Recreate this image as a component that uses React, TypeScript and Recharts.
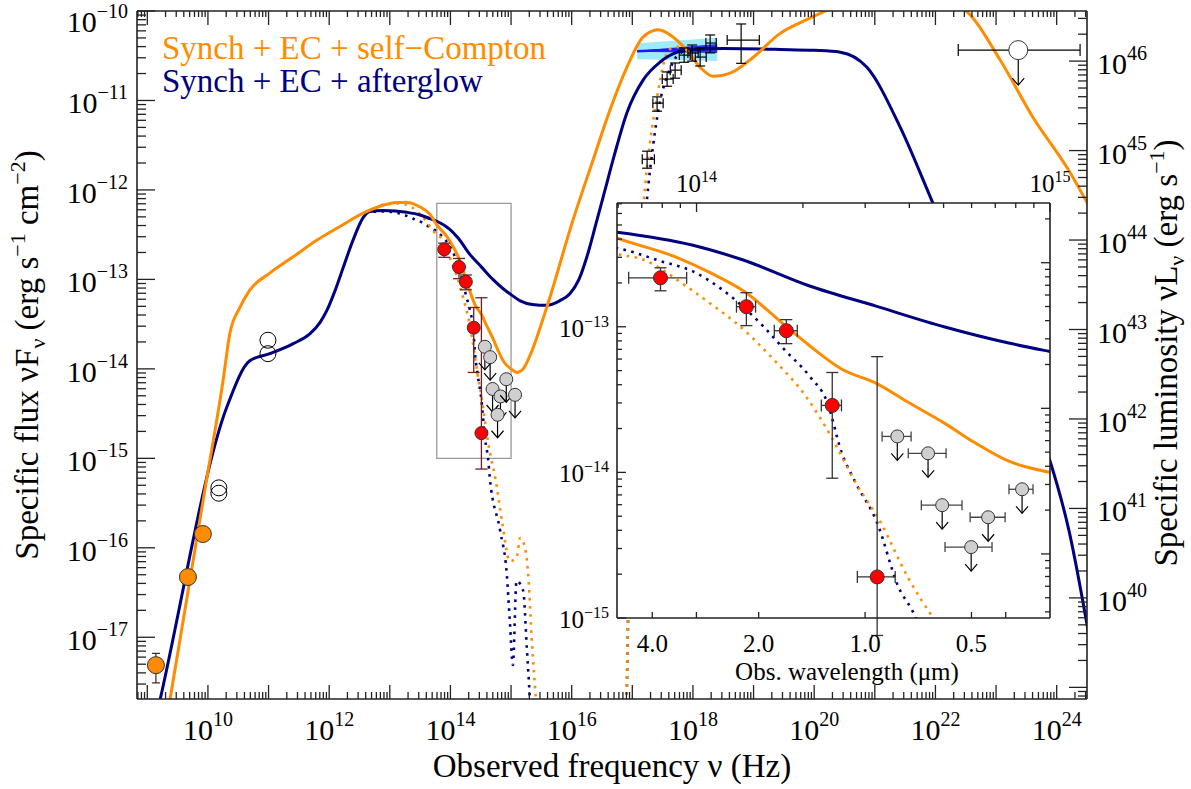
import React from "react";
import {
  ComposedChart,
  Line,
  Area,
  Scatter,
  XAxis,
  YAxis,
  ErrorBar,
  ReferenceArea,
} from "recharts";

const FONT = '"Liberation Serif", "Times New Roman", Times, serif';
const ORANGE = "#ff8c00";
const NAVY = "#000080";
const AXIS = "#222";
const LUM_OFFSET = 56.56; // log10(4 pi dL^2), flux -> luminosity
const C_MICRON = 2.998e14; // speed of light in micron/s

// all values are log10: [nu (Hz), nuFnu (erg s-1 cm-2)]
const sscModel = [
  [9.25, -18.2], [9.6, -16.78], [9.95, -15.35], [10.25, -14.13], [10.36, -13.61],
  [10.53, -13.31], [10.69, -13.12], [11.02, -12.93], [11.4, -12.75], [11.8, -12.56],
  [12.2, -12.4], [12.56, -12.26], [12.85, -12.18], [13.12, -12.14], [13.28, -12.14],
  [13.5, -12.19], [13.66, -12.27], [13.775, -12.39], [13.94, -12.52], [14.04, -12.63],
  [14.13, -12.75], [14.26, -13.01], [14.32, -13.13], [14.41, -13.29], [14.51, -13.39],
  [14.6, -13.52], [14.7, -13.66], [14.79, -13.8], [14.88, -13.92], [15.0, -14.0],
  [15.1, -14.04], [15.2, -14.0], [15.3, -13.87], [15.59, -13.31], [16.02, -12.34],
  [16.35, -11.67], [16.63, -11.11], [16.91, -10.63], [17.18, -10.29], [17.43, -10.21],
  [17.67, -10.29], [17.9, -10.44], [18.12, -10.63], [18.33, -10.73], [18.66, -10.68],
  [18.99, -10.52], [19.44, -10.25], [19.77, -10.13], [20.15, -10.01], [20.7, -9.85],
  [21.3, -9.78], [21.9, -9.83], [22.49, -9.99], [23.07, -10.55], [23.61, -11.19],
  [24.17, -11.75], [24.55, -12.2],
];

const afterglowModel = [
  [9.1, -18.03], [9.21, -17.7], [10.31, -14.43], [10.69, -13.91], [11.02, -13.83],
  [11.4, -13.72], [11.68, -13.61], [11.85, -13.48], [11.96, -13.35], [12.1, -13.12],
  [12.23, -12.87], [12.4, -12.55], [12.56, -12.31], [12.67, -12.24], [12.9, -12.23],
  [13.28, -12.25], [13.5, -12.28], [13.66, -12.32], [13.775, -12.35], [13.99, -12.44],
  [14.13, -12.54], [14.32, -12.72], [14.51, -12.86], [14.7, -13.0], [14.88, -13.11],
  [15.0, -13.17], [15.15, -13.24], [15.35, -13.28], [15.59, -13.29], [15.8, -13.24],
  [15.97, -13.16], [16.12, -13.0], [16.25, -12.75], [16.4, -12.38], [16.55, -12.0],
  [16.7, -11.62], [16.91, -11.14], [17.18, -10.77], [17.46, -10.57], [17.74, -10.46],
  [18.0, -10.43], [18.5, -10.42], [19.44, -10.43], [20.0, -10.44], [20.43, -10.46],
  [20.87, -10.63], [21.42, -11.3], [21.96, -12.15], [22.5, -13.0], [23.2, -14.0],
  [23.89, -15.03], [24.2, -15.8], [24.55, -17.05],
];

// synchrotron-only components (dotted)
const sscSynch = [
  [12.85, -12.17], [13.12, -12.15], [13.35, -12.19], [13.55, -12.31], [13.775, -12.5],
  [13.85, -12.54], [13.97, -12.72], [14.05, -12.86], [14.11, -12.97], [14.22, -13.23],
  [14.31, -13.48], [14.38, -13.75], [14.45, -14.07], [14.52, -14.34], [14.6, -14.73],
  [14.67, -15.0], [14.74, -15.22], [14.85, -15.7], [14.98, -16.15], [15.09, -16.11],
  [15.15, -15.89], [15.23, -16.0], [15.29, -16.37], [15.34, -17.01], [15.4, -17.6],
  [15.44, -18.0],
];

const afterglowSynch = [
  [12.6, -12.25], [12.9, -12.24], [13.2, -12.27], [13.38, -12.32], [13.55, -12.37],
  [13.71, -12.44], [13.775, -12.46], [13.9, -12.55], [13.99, -12.62], [14.07, -12.74],
  [14.19, -13.0], [14.25, -13.16], [14.32, -13.34], [14.37, -13.52], [14.41, -13.86],
  [14.45, -14.07], [14.51, -14.34], [14.57, -14.78], [14.62, -15.0], [14.65, -15.22],
  [14.82, -15.81], [14.93, -16.3], [14.98, -16.82], [15.03, -17.31], [15.09, -16.37],
  [15.2, -16.48], [15.26, -17.12], [15.31, -17.7], [15.33, -18.0],
];

// X-ray components (dotted)
const sscXray = [
  [16.9, -18.0], [16.93, -16.8], [17.0, -14.8], [17.1, -13.0], [17.21, -11.97],
  [17.29, -11.48], [17.41, -10.96], [17.46, -10.77], [17.57, -10.47], [17.67, -10.41],
  [17.8, -10.4],
];
const afterglowXray = [
  [16.9, -18.0], [16.93, -16.8], [17.0, -14.8], [17.12, -13.2], [17.24, -12.12],
  [17.34, -11.52], [17.46, -11.0], [17.57, -10.74], [17.79, -10.47], [18.0, -10.43],
  [18.4, -10.42],
];

// X-ray spectral fit bowtie
const bowtieLogNu = [17.08, 18.4];
const bowtieOuter = [[-10.54, -10.36], [-10.56, -10.3]];
const bowtieInner = [[-10.455, -10.445], [-10.47, -10.37]];
const bowtieCentre = [-10.45, -10.41];

// X-ray data
const xrayLogNu = [17.244, 17.409, 17.574, 17.706, 17.855, 17.987, 18.119, 18.284, 18.795];
const xrayLogF = [-11.657, -11.03, -10.761, -10.661, -10.493, -10.47, -10.515, -10.358, -10.325];
const xrayNuErr = [[0.08, 0.12], [0.07, 0.1], [0.08, 0.1], [0.08, 0.1], [0.08, 0.1], [0.07, 0.1], [0.08, 0.1], [0.07, 0.1], [0.23, 0.3]];
const xrayFErr = [[0.1, 0.09], [0.09, 0.07], [0.08, 0.08], [0.09, 0.08], [0.08, 0.08], [0.09, 0.09], [0.1, 0.1], [0.11, 0.09], [0.26, 0.18]];

// gamma-ray upper limit
const gammaLogNu = [23.366];
const gammaLogF = [-10.437];
const gammaNuErr = [[0.99, 1.02]];

// radio detections and open (other epoch) radio points
const radioLogNu = [9.142, 9.67, 9.917];
const radioLogF = [-17.312, -16.327, -15.846];
const radioFErr = [[0.198, 0.132], [0.02, 0.02], [0.03, 0.03]];
const openRadioLogNu = [10.18, 10.18, 10.99, 10.99];
const openRadioLogF = [-15.33, -15.39, -13.68, -13.83];

// NIR / optical detections
const nirLogNu = [13.898, 14.141, 14.254, 14.384, 14.511];
const nirLogF = [-12.664, -12.862, -13.027, -13.54, -14.718];
const nirNuLo = [13.808, 14.113, 14.22, 14.353, 14.455];
const nirNuHi = [13.972, 14.167, 14.285, 14.41, 14.562];
const nirFLo = [-12.753, -12.992, -13.116, -14.04, -15.12];
const nirFHi = [-12.595, -12.766, -12.951, -13.314, -13.205];

// optical / UV upper limits
const optLogNu = [14.568, 14.655, 14.695, 14.825, 14.777, 14.921, 15.066];
const optLogF = [-13.753, -13.869, -14.225, -14.308, -14.513, -14.116, -14.29];
const optNuLo = [14.525, 14.599, 14.636, 14.774, 14.703, 14.884, 15.03];
const optNuHi = [14.607, 14.706, 14.751, 14.873, 14.836, 14.952, 15.1];

// axis ranges and labels
const mainX = [8.83, 24.5];
const mainY = [-17.69, -10];
const insetX = [13.775, 15.0];
const insetY = [-15, -12.15];
const wavelengthTicks = [4.0, 3.0, 2.0, 1.0, 0.5, 0.4];
const wavelengthLabels = ["4.0", "", "2.0", "1.0", "0.5", ""];
const insetFreqLabels = [14, 15];

const toXY = (pts: number[][]) => pts.map(([x, y]) => ({ x, y }));

const bowtieRows = bowtieLogNu.map((x, i) => ({
  x,
  outer: bowtieOuter[i],
  inner: bowtieInner[i],
  y: bowtieCentre[i],
}));
const xrayRows = xrayLogNu.map((x, i) => ({ x, y: xrayLogF[i], ex: xrayNuErr[i], ey: xrayFErr[i] }));
const gammaRows = gammaLogNu.map((x, i) => ({ x, y: gammaLogF[i], ex: gammaNuErr[i] }));
const radioRows = radioLogNu.map((x, i) => ({ x, y: radioLogF[i], ey: radioFErr[i] }));
const openRadioRows = openRadioLogNu.map((x, i) => ({ x, y: openRadioLogF[i] }));
const nirRows = nirLogNu.map((x, i) => ({
  x,
  y: nirLogF[i],
  ex: [x - nirNuLo[i], nirNuHi[i] - x],
  ey: [nirLogF[i] - nirFLo[i], nirFHi[i] - nirLogF[i]],
}));
const optRows = optLogNu.map((x, i) => ({ x, y: optLogF[i], ex: [x - optNuLo[i], optNuHi[i] - x] }));
const insetOptRows = optRows.filter((r) => r.x < insetX[1]);

function logTicks(min: number, max: number) {
  const out: number[] = [];
  for (let d = Math.floor(min) - 1; d <= Math.ceil(max); d++) {
    for (let k = 1; k <= 9; k++) {
      const v = d + Math.log10(k);
      if (v >= min - 1e-6 && v <= max + 1e-6) out.push(v);
    }
  }
  return out;
}
const isDecade = (v: number) => Math.abs(v - Math.round(v)) < 1e-6;

function Pow({ x, y, exp, anchor, size, sup, rise }: any) {
  return (
    <text x={x} y={y} textAnchor={anchor} fontFamily={FONT} fontSize={size} fill="#000">
      <tspan>10</tspan>
      <tspan dy={-rise} fontSize={sup}>
        {exp < 0 ? `\u2212${-exp}` : `${exp}`}
      </tspan>
    </text>
  );
}

type TickCfg = {
  side: "left" | "right" | "top" | "bottom";
  major: number;
  minor: number;
  isMajor?: (v: number, i: number) => boolean;
  label?: (v: number, i: number, x: number, y: number) => React.ReactNode;
};

function makeTick(cfg: TickCfg) {
  const dir = { left: [1, 0], right: [-1, 0], top: [0, 1], bottom: [0, -1] }[cfg.side];
  return (props: any) => {
    const { x, y, payload, index } = props;
    const v = payload.value;
    const major = cfg.isMajor ? cfg.isMajor(v, index) : isDecade(v);
    const len = major ? cfg.major : cfg.minor;
    return (
      <g>
        <line x1={x} y1={y} x2={x + dir[0] * len} y2={y + dir[1] * len} stroke={AXIS} strokeWidth={1.3} />
        {cfg.label ? cfg.label(v, index, x, y) : null}
      </g>
    );
  };
}

const axisLine = { stroke: AXIS, strokeWidth: 1.6 };
const common = {
  type: "number" as const,
  allowDataOverflow: true,
  interval: 0 as const,
  tickSize: 0,
  tickMargin: 0,
  tickLine: false,
  axisLine,
};

// markers
const NoMark = () => <g />;
const dotShape = (fill: string, r: number, stroke = "#333") => (p: any) =>
  <circle cx={p.cx} cy={p.cy} r={r} fill={fill} stroke={stroke} strokeWidth={1} />;
const limitShape = (fill: string, r: number, len: number) => (p: any) => (
  <g>
    <line x1={p.cx} y1={p.cy} x2={p.cx} y2={p.cy + len} stroke="#000" strokeWidth={1.2} />
    <polyline
      points={`${p.cx - 6},${p.cy + len - 7} ${p.cx},${p.cy + len} ${p.cx + 6},${p.cy + len - 7}`}
      fill="none"
      stroke="#000"
      strokeWidth={1.2}
    />
    <circle cx={p.cx} cy={p.cy} r={r} fill={fill} stroke="#333" strokeWidth={1} />
  </g>
);

function modelLines(xId: string, yId: string) {
  const solid = { xAxisId: xId, yAxisId: yId, dataKey: "y", type: "monotone" as const, dot: false, isAnimationActive: false };
  const dotted = { ...solid, strokeWidth: 2.6, strokeDasharray: "2.6 5.4" };
  return [
    <Line key="as" {...dotted} data={toXY(afterglowSynch)} stroke={NAVY} />,
    <Line key="ss" {...dotted} data={toXY(sscSynch)} stroke={ORANGE} />,
    <Line key="ax" {...dotted} data={toXY(afterglowXray)} stroke={NAVY} />,
    <Line key="sx" {...dotted} data={toXY(sscXray)} stroke={ORANGE} />,
    <Line key="am" {...solid} data={toXY(afterglowModel)} stroke={NAVY} strokeWidth={3} />,
    <Line key="sm" {...solid} data={toXY(sscModel)} stroke={ORANGE} strokeWidth={3} />,
  ];
}

const mainBottomTick = makeTick({
  side: "bottom",
  major: 14,
  minor: 7,
  label: (v, i, x, y) =>
    isDecade(v) && Math.round(v) % 2 === 0 ? (
      <Pow x={x} y={y + 41} exp={Math.round(v)} anchor="middle" size={30} sup={20} rise={14} />
    ) : null,
});
const mainTopTick = makeTick({ side: "top", major: 14, minor: 6 });
const mainLeftTick = makeTick({
  side: "left",
  major: 18,
  minor: 9,
  // the topmost label is pushed down so it stays on the page
  label: (v, i, x, y) =>
    isDecade(v) ? (
      <Pow x={x - 9} y={Math.max(y + 13, 32)} exp={Math.round(v)} anchor="end" size={30} sup={20} rise={14} />
    ) : null,
});
const mainRightTick = makeTick({
  side: "right",
  major: 18,
  minor: 9,
  label: (v, i, x, y) =>
    isDecade(v) && v >= 39.5 ? (
      <Pow x={x + 10} y={y + 13} exp={Math.round(v)} anchor="start" size={30} sup={20} rise={14} />
    ) : null,
});

const insetBottomTick = makeTick({
  side: "bottom",
  major: 6,
  minor: 6,
  label: (v, i, x, y) =>
    wavelengthLabels[i] ? (
      <text x={x} y={y + 34} textAnchor="middle" fontFamily={FONT} fontSize={25} fill="#000">
        {wavelengthLabels[i]}
      </text>
    ) : null,
});
const insetTopTick = makeTick({
  side: "top",
  major: 9,
  minor: 5,
  label: (v, i, x, y) =>
    isDecade(v) && insetFreqLabels.includes(Math.round(v)) ? (
      <Pow x={x} y={y - 11} exp={Math.round(v)} anchor="middle" size={25} sup={16} rise={10} />
    ) : null,
});
const insetLeftTick = makeTick({
  side: "left",
  major: 9,
  minor: 5,
  label: (v, i, x, y) =>
    isDecade(v) ? <Pow x={x - 8} y={y + 10} exp={Math.round(v)} anchor="end" size={25} sup={16} rise={10} /> : null,
});
const insetRightTick = makeTick({ side: "right", major: 9, minor: 5 });

export default function App() {
  const lumMain = [mainY[0] + LUM_OFFSET, mainY[1] + LUM_OFFSET];
  const lumInset = [insetY[0] + LUM_OFFSET, insetY[1] + LUM_OFFSET];
  const wlTicks = wavelengthTicks.map((l) => Math.log10(C_MICRON / l));

  // axes are 1px thick boxes so that the plot area sits exactly inside the margins
  return (
    <div style={{ position: "absolute", left: 0, top: 0, width: 1191, height: 789, background: "#fff" }}>
      <div style={{ position: "absolute", left: 0, top: 0 }}>
        <ComposedChart width={1191} height={789} margin={{ top: 10, right: 103, bottom: 89, left: 136 }}>
          <XAxis {...common} xAxisId="b" dataKey="x" domain={mainX} height={1} ticks={logTicks(mainX[0], mainX[1])} tick={mainBottomTick} />
          <XAxis {...common} xAxisId="t" orientation="top" dataKey="x" domain={mainX} height={1} ticks={logTicks(mainX[0], mainX[1])} tick={mainTopTick} />
          <YAxis {...common} yAxisId="l" dataKey="y" domain={mainY} width={1} ticks={logTicks(mainY[0], mainY[1])} tick={mainLeftTick} />
          <YAxis {...common} yAxisId="r" orientation="right" domain={lumMain} width={1} ticks={logTicks(lumMain[0], lumMain[1])} tick={mainRightTick} />

          <ReferenceArea xAxisId="b" yAxisId="l" x1={insetX[0]} x2={insetX[1]} y1={insetY[0]} y2={insetY[1]} fill="none" fillOpacity={0} stroke="#999" strokeWidth={1.3} />

          <Area xAxisId="b" yAxisId="l" data={bowtieRows} dataKey="outer" type="linear" fill="#9feaf9" fillOpacity={1} stroke="none" isAnimationActive={false} />
          <Area xAxisId="b" yAxisId="l" data={bowtieRows} dataKey="inner" type="linear" fill="#2233ee" fillOpacity={1} stroke="none" isAnimationActive={false} />
          <Line xAxisId="b" yAxisId="l" data={bowtieRows} dataKey="y" type="linear" stroke="#1a1aff" strokeWidth={2.5} dot={false} isAnimationActive={false} />

          {modelLines("b", "l")}

          <Scatter xAxisId="b" yAxisId="l" data={xrayRows} dataKey="y" shape={NoMark} isAnimationActive={false}>
            <ErrorBar dataKey="ex" direction="x" width={5} stroke="#000" strokeWidth={1.2} />
            <ErrorBar dataKey="ey" direction="y" width={5} stroke="#000" strokeWidth={1.2} />
          </Scatter>
          <Scatter xAxisId="b" yAxisId="l" data={gammaRows} dataKey="y" shape={limitShape("#fff", 9.5, 35)} isAnimationActive={false}>
            <ErrorBar dataKey="ex" direction="x" width={6} stroke="#000" strokeWidth={1.2} />
          </Scatter>
          <Scatter xAxisId="b" yAxisId="l" data={openRadioRows} dataKey="y" shape={dotShape("none", 8, "#000")} isAnimationActive={false} />
          <Scatter xAxisId="b" yAxisId="l" data={radioRows} dataKey="y" shape={dotShape(ORANGE, 8.5)} isAnimationActive={false} />
          {/* radio error bars drawn again on top of the filled markers */}
          <Scatter xAxisId="b" yAxisId="l" data={radioRows} dataKey="y" shape={NoMark} isAnimationActive={false}>
            <ErrorBar dataKey="ey" direction="y" width={4} stroke="#3a2410" strokeWidth={1.2} />
          </Scatter>
          <Scatter xAxisId="b" yAxisId="l" data={optRows} dataKey="y" shape={limitShape("#cfcfcf", 6.5, 23)} isAnimationActive={false} />
          <Scatter xAxisId="b" yAxisId="l" data={nirRows} dataKey="y" shape={dotShape("#ff0000", 6.5)} isAnimationActive={false}>
            <ErrorBar dataKey="ey" direction="y" width={6} stroke="#6e2020" strokeWidth={1.3} />
          </Scatter>
        </ComposedChart>
      </div>

      <div style={{ position: "absolute", left: 617, top: 203, width: 433, height: 415, background: "#fff" }} />

      <div style={{ position: "absolute", left: 540, top: 160 }}>
        <ComposedChart width={580} height={540} margin={{ top: 42, right: 69, bottom: 81, left: 76 }}>
          <XAxis {...common} xAxisId="b" dataKey="x" domain={insetX} height={1} ticks={wlTicks} tick={insetBottomTick} />
          <XAxis {...common} xAxisId="t" orientation="top" dataKey="x" domain={insetX} height={1} ticks={logTicks(insetX[0], insetX[1])} tick={insetTopTick} />
          <YAxis {...common} yAxisId="l" dataKey="y" domain={insetY} width={1} ticks={logTicks(insetY[0], insetY[1])} tick={insetLeftTick} />
          <YAxis {...common} yAxisId="r" orientation="right" domain={lumInset} width={1} ticks={logTicks(lumInset[0], lumInset[1])} tick={insetRightTick} />

          {modelLines("b", "l")}

          <Scatter xAxisId="b" yAxisId="l" data={insetOptRows} dataKey="y" shape={limitShape("#cfcfcf", 6.5, 24)} isAnimationActive={false}>
            <ErrorBar dataKey="ex" direction="x" width={5} stroke="#444" strokeWidth={1.3} />
          </Scatter>
          <Scatter xAxisId="b" yAxisId="l" data={nirRows} dataKey="y" shape={dotShape("#ff0000", 7)} isAnimationActive={false}>
            <ErrorBar dataKey="ex" direction="x" width={6} stroke="#333" strokeWidth={1.3} />
            <ErrorBar dataKey="ey" direction="y" width={6} stroke="#333" strokeWidth={1.3} />
          </Scatter>
        </ComposedChart>
      </div>

      <svg width={1191} height={789} style={{ position: "absolute", left: 0, top: 0, pointerEvents: "none" }} fontFamily={FONT}>
        <text x={162} y={59} fontSize={33} fill={ORANGE}>Synch + EC + self{"\u2212"}Compton</text>
        <text x={162} y={92} fontSize={33} fill={NAVY}>Synch + EC + afterglow</text>
        <text x={612} y={777} fontSize={33} textAnchor="middle" fill="#000">Observed frequency ν (Hz)</text>
        <text x={847} y={680} fontSize={25} textAnchor="middle" fill="#000">Obs. wavelength (μm)</text>
        <text x={38} y={355} transform="rotate(-90 38 355)" fontSize={33} textAnchor="middle" fill="#000">
          Specific flux νF<tspan dy={7} fontSize={22}>ν</tspan>
          <tspan dy={-7}> (erg s</tspan>
          <tspan dy={-13} fontSize={22}>{"\u2212"}1</tspan>
          <tspan dy={13}> cm</tspan>
          <tspan dy={-13} fontSize={22}>{"\u2212"}2</tspan>
          <tspan dy={13}>)</tspan>
        </text>
        <text x={1177} y={353} transform="rotate(-90 1177 353)" fontSize={33} textAnchor="middle" fill="#000">
          Specific luminosity νL<tspan dy={7} fontSize={22}>ν</tspan>
          <tspan dy={-7}> (erg s</tspan>
          <tspan dy={-13} fontSize={22}>{"\u2212"}1</tspan>
          <tspan dy={13}>)</tspan>
        </text>
      </svg>
    </div>
  );
}
